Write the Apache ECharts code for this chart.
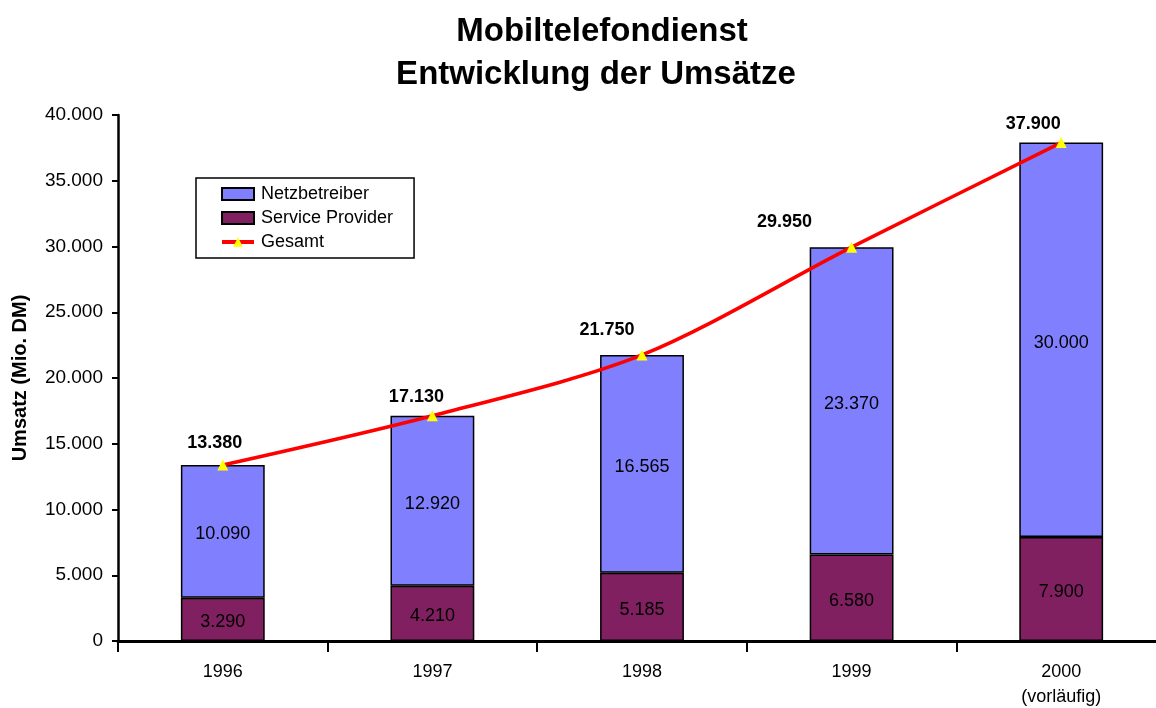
<!DOCTYPE html>
<html>
<head>
<meta charset="utf-8">
<script src="https://cdn.jsdelivr.net/npm/echarts@6/dist/echarts.min.js"></script>
<style>
  html, body { margin: 0; padding: 0; background: #fff; }
  #chart { width: 1156px; height: 708px; }
</style>
</head>
<body>
<div id="chart"></div>
<script>
// Daten (Mio. DM)
const years = ['1996', '1997', '1998', '1999', '2000\n(vorläufig)'];
const serviceProvider = [3290, 4210, 5185, 6580, 7900];
const netzbetreiber = [10090, 12920, 16565, 23370, 30000];
const gesamt = [13380, 17130, 21750, 29950, 37900];

// Beschriftungen der Summen sind im Original von Hand verschoben
const gesamtLabelShift = [[-8, 2], [-16, 6], [-35, 0], [-67, -1], [-28, 6]];

// Tausenderpunkt wie im Original
function fmt(v) {
    return String(v).replace(/\B(?=(\d{3})+(?!\d))/g, '.');
}

const chart = echarts.init(document.getElementById('chart'));
const font = 'Liberation Sans, Arial, sans-serif';

const option = {
    animation: false,
    textStyle: { fontFamily: font },
    title: [
        {
            text: 'Mobiltelefondienst',
            left: 597, top: 10, textAlign: 'center',
            textStyle: { fontSize: 33, fontWeight: 'bold', color: '#000', fontFamily: font }
        },
        {
            text: 'Entwicklung der Umsätze',
            left: 591, top: 53, textAlign: 'center',
            textStyle: { fontSize: 33, fontWeight: 'bold', color: '#000', fontFamily: font }
        }
    ],
    legend: {
        orient: 'vertical',
        left: 196, top: 178,
        padding: [7, 21, 7, 24],
        itemWidth: 32, itemHeight: 12,
        itemGap: 6,
        borderColor: '#000', borderWidth: 1.5,
        textStyle: { fontSize: 18, color: '#000', fontFamily: font, padding: [0, 0, 0, 2] },
        data: [
            { name: 'Netzbetreiber', icon: 'rect' },
            { name: 'Service Provider', icon: 'rect' },
            { name: 'Gesamt', lineStyle: { width: 4 } }
        ]
    },
    grid: { left: 118, right: -10, top: 115, bottom: 67, outerBoundsMode: 'none', containLabel: false },
    xAxis: {
        type: 'category',
        data: years,
        axisLine: { lineStyle: { color: '#000', width: 3 } },
        axisTick: { show: true, length: 11, lineStyle: { color: '#000', width: 2 } },
        axisLabel: { fontSize: 18, color: '#000', margin: 19, lineHeight: 25, fontFamily: font }
    },
    yAxis: {
        type: 'value',
        min: 0, max: 40000, interval: 5000,
        name: 'Umsatz (Mio. DM)',
        nameLocation: 'middle',
        nameGap: 88,
        nameTextStyle: { fontSize: 20, fontWeight: 'bold', color: '#000', fontFamily: font },
        splitLine: { show: false },
        axisLine: { show: true, lineStyle: { color: '#000', width: 2.5 } },
        axisTick: { show: true, length: 6, lineStyle: { color: '#000', width: 2 } },
        axisLabel: {
            fontSize: 19, color: '#000', margin: 15, fontFamily: font,
            formatter: fmt
        }
    },
    series: [
        {
            name: 'Service Provider',
            type: 'bar',
            stack: 'umsatz',
            barWidth: '40%',
            data: serviceProvider,
            itemStyle: { color: '#802060', borderColor: '#000', borderWidth: 1.5 },
            label: {
                show: true, position: 'inside', offset: [0, 3], fontSize: 18, color: '#000', fontFamily: font,
                formatter: p => fmt(p.value)
            }
        },
        {
            name: 'Netzbetreiber',
            type: 'bar',
            stack: 'umsatz',
            data: netzbetreiber,
            itemStyle: { color: '#8080FF', borderColor: '#000', borderWidth: 1.5 },
            label: {
                show: true, position: 'inside', offset: [0, 3], fontSize: 18, color: '#000', fontFamily: font,
                formatter: p => fmt(p.value)
            }
        },
        {
            name: 'Gesamt',
            type: 'line',
            data: gesamt.map((v, i) => ({ value: v, label: { offset: gesamtLabelShift[i] } })),
            smooth: 0.3,
            symbol: 'triangle',
            symbolSize: 11,
            z: 5,
            lineStyle: { color: '#FF0000', width: 3.5 },
            itemStyle: { color: '#FFFF00' },
            label: {
                show: true, position: 'top', distance: 10,
                fontSize: 18, fontWeight: 'bold', color: '#000', fontFamily: font,
                formatter: p => fmt(p.value)
            }
        }
    ]
};

chart.setOption(option);
</script>
</body>
</html>
